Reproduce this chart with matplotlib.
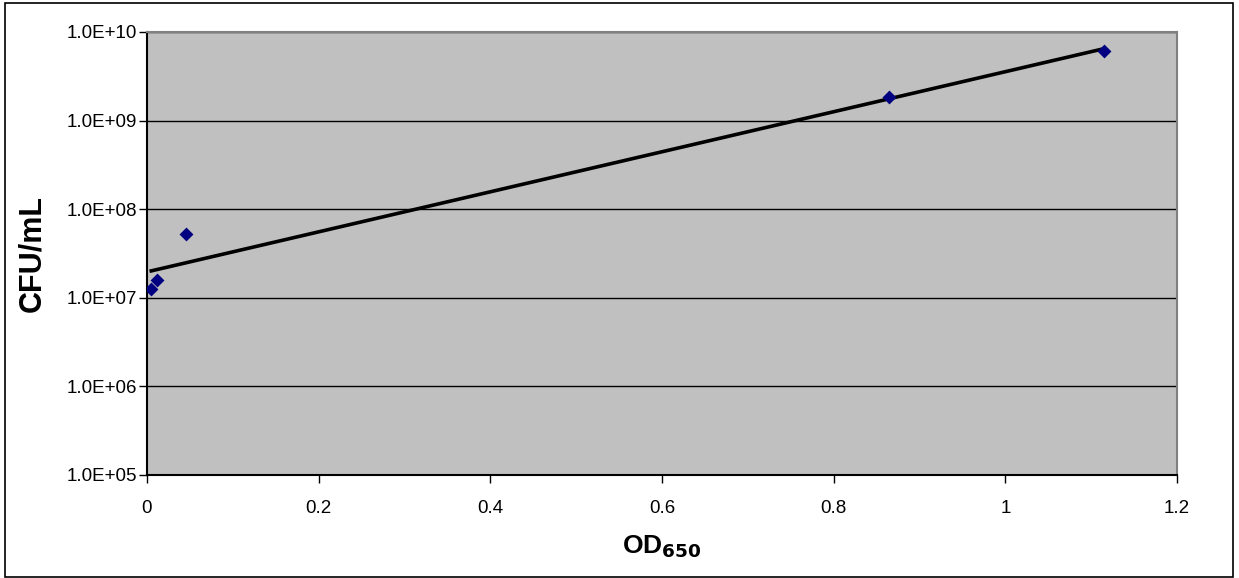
import numpy as np
import matplotlib
matplotlib.use("Agg")
import matplotlib.pyplot as plt
from matplotlib.patches import Rectangle

plt.rcParams['font.family'] = ['Liberation Sans', 'DejaVu Sans']

od650 = [0.005, 0.012, 0.045, 0.865, 1.115]
cfu_per_ml = [1.27e7, 1.6e7, 5.2e7, 1.85e9, 6.1e9]
y_ticks = [1e5, 1e6, 1e7, 1e8, 1e9, 1e10]
y_tick_labels = ["1.0E+05", "1.0E+06", "1.0E+07", "1.0E+08", "1.0E+09", "1.0E+10"]
x_ticks = [0, 0.2, 0.4, 0.6, 0.8, 1.0, 1.2]
x_tick_labels = ["0", "0.2", "0.4", "0.6", "0.8", "1", "1.2"]

fig = plt.figure(figsize=(12.39, 5.78), dpi=100)
fig.patches.append(Rectangle((0.004, 0.002), 0.991, 0.993, transform=fig.transFigure,
                             fill=False, edgecolor='black', linewidth=1.2, zorder=0))
ax = fig.add_axes([147/1239, 1-475/578, (1177-147)/1239, (475-32)/578])
ax.set_facecolor('#C0C0C0')

# exponential trendline (fit in log space)
x = np.array(od650)
ly = np.log10(cfu_per_ml)
b, a = np.polyfit(x, ly, 1)
xs = np.linspace(x.min(), x.max(), 200)
ax.plot(xs, 10**(a + b*xs), color='black', lw=2.6, zorder=3)

ax.scatter(od650, cfu_per_ml, marker='D', s=50, color='#000080', zorder=4, linewidths=0)

ax.set_yscale('log')
ax.set_ylim(1e5, 1e10)
ax.set_xlim(0, 1.2)
ax.set_yticks(y_ticks)
ax.set_yticklabels(y_tick_labels)
ax.minorticks_off()
ax.set_xticks(x_ticks)
ax.set_xticklabels(x_tick_labels)
ax.tick_params(axis='both', direction='out', length=6, width=1, labelsize=13.5, color='black')
ax.tick_params(axis='x', pad=12)
ax.tick_params(axis='y', pad=1)
ax.grid(axis='y', color='black', lw=1, zorder=1)
ax.set_axisbelow(True)
for s in ['top', 'right']:
    ax.spines[s].set_color('#808080')
    ax.spines[s].set_linewidth(1.5)
for s in ['left', 'bottom']:
    ax.spines[s].set_color('black')
    ax.spines[s].set_linewidth(1.5)

ax.set_ylabel('CFU/mL', fontsize=22, fontweight='bold', labelpad=14)
ax.set_xlabel('OD$_{\\mathbf{650}}$', fontsize=19, fontweight='bold', labelpad=12)

fig.savefig('out.png', dpi=100)
